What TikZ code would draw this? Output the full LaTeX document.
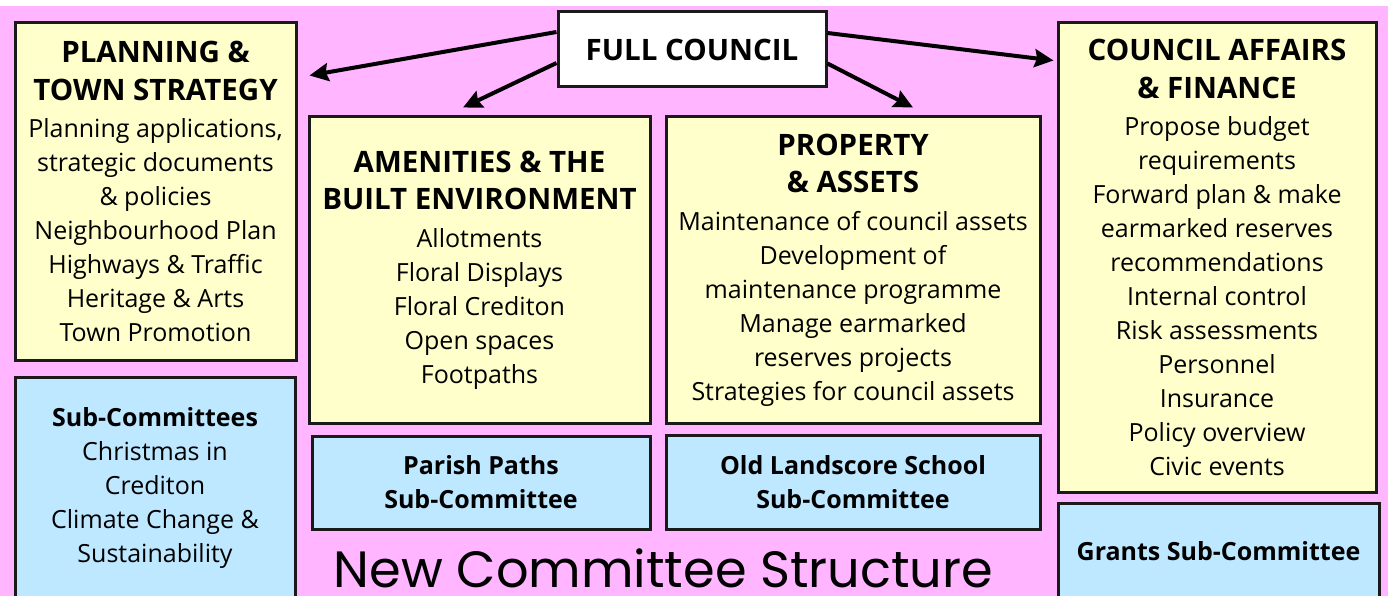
\documentclass[tikz,border=0pt]{standalone}
\usepackage{fontspec}
\setmainfont{Open Sans}
\newfontfamily\titelfont{Poppins}
\usetikzlibrary{arrows.meta,calc}

\definecolor{hgrosa}{RGB}{255,181,255}
\definecolor{boxgelb}{RGB}{255,255,204}
\definecolor{boxblau}{RGB}{189,232,255}
\definecolor{rand}{RGB}{26,26,26}

\newcommand\kopf{\bfseries\fontsize{29.5}{34}\selectfont}

\begin{document}
\begin{tikzpicture}[x=1pt,y=-1pt,
    box/.style={draw=rand, line width=3pt, inner sep=0pt, align=center,
                font=\fontsize{25}{34}\selectfont},
    gelbbox/.style={box, fill=boxgelb},
    blaubox/.style={box, fill=boxblau},
    pfeil/.style={line width=4pt, -{Stealth[length=19pt,width=18pt,inset=2.5pt]}}]

    % Hintergrund
    \clip (0,0) rectangle (1388,596);
    \fill[white] (0,0) rectangle (1388,596);
    \fill[hgrosa] (0,6) rectangle (1388,596);

    % Vollversammlung
    \node[box, fill=white, minimum width=268pt, minimum height=75pt] (council) at (692,49.5)
        {{\kopf FULL COUNCIL}};

    % Ausschuesse
    \node[gelbbox, minimum width=281pt, minimum height=337pt] (planning) at (155.5,191.5)
        {{\kopf PLANNING \&}\\[3.5pt]
         {\kopf TOWN STRATEGY}\\[3.5pt]
         Planning applications,\\
         strategic documents\\
         \& policies\\
         Neighbourhood Plan\\
         Highways \& Traffic\\
         Heritage \& Arts\\
         Town Promotion};

    \node[gelbbox, minimum width=341pt, minimum height=306pt] (amenities) at (479.5,270)
        {{\kopf AMENITIES \& THE}\\[3.5pt]
         {\kopf BUILT ENVIRONMENT}\\[3.5pt]
         Allotments\\
         Floral Displays\\
         Floral Crediton\\
         Open spaces\\
         Footpaths};

    \node[gelbbox, minimum width=374pt, minimum height=306pt] (property) at (853,270)
        {{\kopf PROPERTY}\\[3.5pt]
         {\kopf \& ASSETS}\\[3.5pt]
         Maintenance of council assets\\
         Development of\\
         maintenance programme\\
         Manage earmarked\\
         reserves projects\\
         Strategies for council assets};

    \node[gelbbox, minimum width=318pt, minimum height=469pt] (affairs) at (1217,257.5)
        {{\kopf COUNCIL AFFAIRS}\\[3.5pt]
         {\kopf \& FINANCE}\\[3.5pt]
         Propose budget\\
         requirements\\
         Forward plan \& make\\
         earmarked reserves\\
         recommendations\\
         Internal control\\
         Risk assessments\\
         Personnel\\
         Insurance\\
         Policy overview\\
         Civic events};

    % Unterausschuesse
    \node[blaubox, minimum width=280pt, minimum height=222pt] (subcomm) at (155,488)
        {\textbf{Sub-Committees}\\
         Christmas in\\
         Crediton\\
         Climate Change \&\\
         Sustainability};

    \node[blaubox, minimum width=338pt, minimum height=93pt] (parish) at (481,482.5)
        {\textbf{Parish Paths}\\
         \textbf{Sub-Committee}};

    \node[blaubox, minimum width=374pt, minimum height=94pt] (landscore) at (853,482)
        {\textbf{Old Landscore School}\\
         \textbf{Sub-Committee}};

    \node[blaubox, minimum width=321pt, minimum height=96pt] (grants) at (1218.5,551)
        {\textbf{Grants Sub-Committee}};

    % Titel
    \node[anchor=base, inner sep=0pt, font=\titelfont\fontsize{51}{51}\selectfont] (titel) at (663.5,587)
        {New Committee Structure};

    % Pfeile
    \draw[pfeil] ($(council.west)+(0,-17.5)$) -- ($(planning.north east)+(12,54)$);
    \draw[pfeil] ($(council.west)+(0,13.5)$) -- ($(amenities.north)+(-16.5,-8)$);
    \draw[pfeil] ($(council.east)+(0,14)$) -- ($(property.north)+(60,-8)$);
    \draw[pfeil] ($(council.east)+(0,-16.5)$) -- ($(affairs.north west)+(-3,39)$);

\end{tikzpicture}
\end{document}
